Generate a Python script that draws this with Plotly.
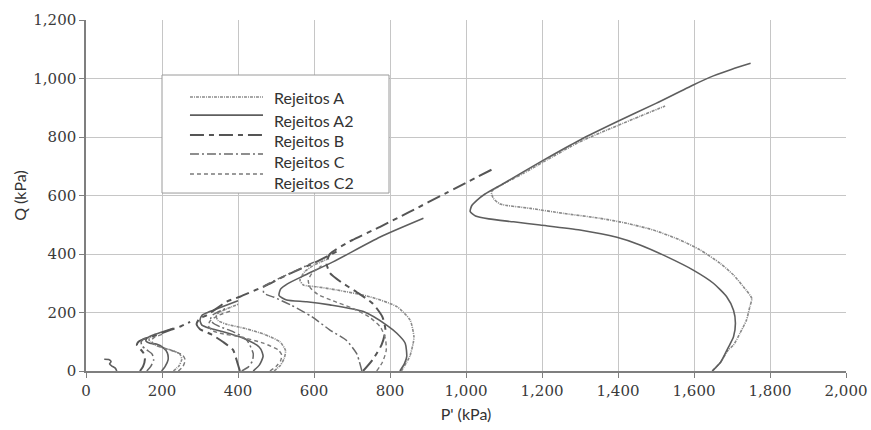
import plotly.graph_objects as go

# ---------------- data (P' kPa, Q kPa), one list per stress path ----------------
A_P = [
    [230, 245, 252, 247, 228, 200, 180, 168, 166, 175],
    [495, 512, 522, 525, 510, 470, 420, 370, 348, 342, 350, 370, 400],
    [830, 852, 861, 863, 853, 818, 747, 660, 607, 572, 563, 576, 600, 640],
    [1648, 1670, 1690, 1704, 1721, 1738, 1747, 1752, 1730, 1704, 1669, 1616, 1563, 1493, 1423,
     1353, 1256, 1169, 1090, 1072, 1067, 1085, 1150, 1204, 1300, 1397, 1460, 1524],
]
A_Q = [
    [0, 18, 40, 58, 70, 80, 90, 100, 110, 120],
    [0, 20, 45, 70, 100, 125, 145, 160, 172, 188, 200, 212, 228],
    [0, 50, 95, 117, 174, 220, 254, 277, 288, 294, 311, 340, 362, 385],
    [0, 30, 72, 89, 129, 174, 220, 248, 288, 328, 368, 414, 448, 482, 505,
     522, 539, 556, 571, 590, 613, 630, 675, 715, 784, 838, 872, 906],
]

A2_P = [
    [81, 77, 68, 62, 66, 60, 48],
    [199, 208, 216, 214, 203, 185, 168, 158, 160, 175, 200, 230],
    [440, 456, 466, 460, 449, 414, 361, 326, 305, 300, 305, 320, 350, 400],
    [826, 838, 844, 840, 818, 791, 730, 642, 581, 528, 508, 512, 530, 580, 650, 774, 888],
    [1648, 1670, 1690, 1704, 1709, 1704, 1686, 1651, 1598, 1528, 1458, 1397, 1300, 1195, 1125,
     1060, 1025, 1011, 1015, 1030, 1050, 1100, 1204, 1300, 1397, 1500, 1598, 1651, 1700, 1749],
]
A2_Q = [
    [0, 10, 17, 24, 32, 39, 40],
    [0, 15, 38, 62, 80, 92, 95, 102, 112, 122, 133, 146],
    [0, 20, 50, 75, 89, 112, 134, 146, 157, 174, 190, 200, 215, 240],
    [0, 25, 49, 95, 129, 157, 203, 226, 237, 243, 258, 280, 298, 330, 373, 458, 522],
    [0, 30, 80, 117, 163, 208, 254, 300, 345, 391, 431, 457, 482, 499, 510,
     520, 530, 545, 565, 585, 605, 642, 721, 790, 852, 915, 978, 1009, 1032, 1052],
]

B_P = [
    [142, 150, 155, 152, 143, 134, 138, 150, 175, 200, 225, 250, 274],
    [405, 398, 387, 360, 330, 300, 291, 298, 318, 370, 405, 476, 528, 598, 668],
    [729, 755, 778, 788, 780, 755, 712, 670, 642, 633, 642, 700, 774, 850, 950, 1070],
]
B_Q = [
    [0, 15, 40, 60, 75, 88, 100, 108, 118, 130, 142, 153, 168],
    [0, 30, 72, 100, 125, 143, 160, 178, 191, 237, 254, 294, 328, 368, 414],
    [0, 40, 90, 140, 185, 230, 270, 305, 335, 368, 400, 447, 493, 543, 610, 690],
]

C_P = [
    [160, 170, 178, 174, 160, 148, 145, 150, 165],
    [410, 428, 438, 440, 423, 388, 353, 335, 328, 332, 345, 370],
    [726, 712, 685, 642, 595, 540, 495, 468, 468, 485, 530, 600],
]
C_Q = [
    [0, 15, 38, 58, 72, 85, 98, 108, 115],
    [0, 15, 35, 60, 106, 134, 151, 163, 178, 190, 200, 215],
    [0, 60, 105, 140, 185, 225, 252, 266, 288, 302, 330, 372],
]

C2_P = [
    [243, 255, 261, 254, 235, 210, 190, 176, 172, 180, 200],
    [484, 500, 512, 515, 506, 467, 405, 353, 330, 322, 326, 345, 380],
    [765, 780, 790, 788, 775, 745, 700, 650, 610, 590, 585, 595, 620],
]
C2_Q = [
    [0, 15, 38, 55, 66, 76, 85, 95, 105, 115, 125],
    [0, 15, 35, 55, 72, 95, 117, 129, 140, 155, 170, 188, 205],
    [0, 30, 70, 110, 150, 185, 215, 240, 262, 285, 310, 335, 360],
]

series_names = ["Rejeitos A", "Rejeitos A2", "Rejeitos B", "Rejeitos C", "Rejeitos C2"]
x_ticks = [0, 200, 400, 600, 800, 1000, 1200, 1400, 1600, 1800, 2000]
y_ticks = [0, 200, 400, 600, 800, 1000, 1200]

# ---------------- styles ----------------
styles = {
    "Rejeitos A": dict(color="#8a8a8a", width=1.6, dash="3px,1px,1px,1px"),
    "Rejeitos A2": dict(color="#5e5e5e", width=1.6, dash="solid"),
    "Rejeitos B": dict(color="#555555", width=2.0, dash="14px,5px,5px,5px"),
    "Rejeitos C": dict(color="#6a6a6a", width=1.5, dash="9px,3px,2px,3px"),
    "Rejeitos C2": dict(color="#7a7a7a", width=1.4, dash="4px,3px"),
}


def joined(lists):
    out = []
    for i, l in enumerate(lists):
        if i:
            out.append(None)
        out.extend(l)
    return out


data = {
    "Rejeitos A": (A_P, A_Q),
    "Rejeitos A2": (A2_P, A2_Q),
    "Rejeitos B": (B_P, B_Q),
    "Rejeitos C": (C_P, C_Q),
    "Rejeitos C2": (C2_P, C2_Q),
}

fig = go.Figure()
for name in series_names:
    P, Q = data[name]
    fig.add_trace(go.Scatter(
        x=joined(P), y=joined(Q), mode="lines", name=name,
        line=dict(shape="spline", smoothing=0.6, **styles[name]),
        connectgaps=False, showlegend=False, hoverinfo="skip",
    ))

# ---------------- manual legend (box, line samples, labels) ----------------
L, R, T, B = 0.1, 0.3987, 0.8433, 0.507
fig.add_shape(type="rect", xref="paper", yref="paper", x0=L, x1=R, y0=B, y1=T,
              line=dict(color="#9a9a9a", width=1), fillcolor="white", layer="above")
sample_y = [0.7806, 0.7290, 0.6724, 0.6182, 0.5613]
text_y = [0.7806, 0.7150, 0.6580, 0.5960, 0.5370]
for name, sy, ty in zip(series_names, sample_y, text_y):
    st = styles[name]
    fig.add_shape(type="line", xref="paper", yref="paper", x0=0.1368, x1=0.2329, y0=sy, y1=sy,
                  line=dict(color=st["color"], width=st["width"], dash=st["dash"]), layer="above")
    fig.add_annotation(xref="paper", yref="paper", x=0.2442, y=ty, text=name, showarrow=False,
                       xanchor="left", yanchor="middle",
                       font=dict(family="Lato, Open Sans, sans-serif", size=16, color="#333333"))

axis_common = dict(
    showgrid=True, gridcolor="#c6c6c6", gridwidth=1,
    showline=True, linecolor="#7f7f7f", linewidth=1.5,
    ticks="outside", ticklen=5, tickcolor="#7f7f7f", tickwidth=1,
    tickfont=dict(family="DejaVu Serif, serif", size=15, color="#3a3a3a"),
    tickformat=",d", zeroline=False, automargin=False,
)

fig.update_layout(
    width=871, height=430,
    margin=dict(l=86, r=25, t=20, b=59),
    paper_bgcolor="white", plot_bgcolor="white",
    xaxis=dict(range=[0, 2000], tickvals=x_ticks, **axis_common,
               title=dict(text="P' (kPa)", standoff=10,
                          font=dict(family="Lato, Open Sans, sans-serif", size=16, color="#333333"))),
    yaxis=dict(range=[0, 1200], tickvals=y_ticks, **axis_common,
               title=dict(text="Q (kPa)", standoff=3,
                          font=dict(family="Lato, Open Sans, sans-serif", size=16, color="#333333"))),
)

fig.write_html("out.html")
